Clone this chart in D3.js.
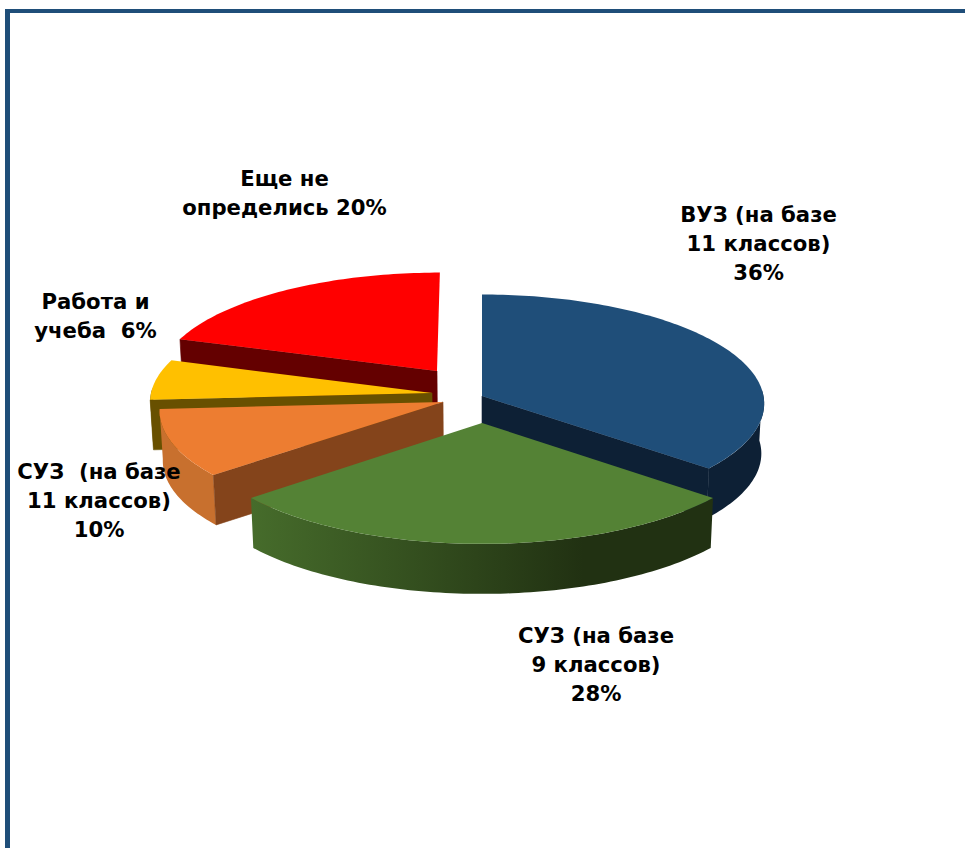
<!DOCTYPE html>
<html lang="ru">
<head>
    <meta charset="UTF-8">
    <title>3D pie</title>
    <script src="https://d3js.org/d3.v7.min.js"></script>
    <style>
        html, body { margin: 0; padding: 0; background: #fff; overflow: hidden; }
        text { font-family: "DejaVu Sans", sans-serif; font-weight: bold; font-size: 21.2px; fill: #000; white-space: pre; }
    </style>
</head>
<body>
    <div id="my_dataviz"></div>
    <script>
        // data
        var categories = ["ВУЗ (на базе 11 классов)", "СУЗ (на базе 9 классов)", "СУЗ (на базе 11 классов)", "Работа и учеба", "Еще не определись"];
        var values = [36, 28, 10, 6, 20];
        var labelLines = [
            ["ВУЗ (на базе", "11 классов)", "36%"],
            ["СУЗ (на базе", "9 классов)", "28%"],
            ["СУЗ  (на базе", "11 классов)", "10%"],
            ["Работа и", "учеба  6%"],
            ["Еще не", "определись 20%"]
        ];

        // colours per slice: top, radial wall, outer wall left and right
        var topColors = ["#1f4e79", "#548235", "#ed7d31", "#ffc000", "#ff0000"];
        var wallColors = ["#0d2035", "#22330f", "#84441b", "#685000", "#640000"];
        var outerLeft = ["#0d2035", "#466c2b", "#c8702e", "#685000", "#640000"];
        var outerRight = ["#0d2035", "#213112", "#c8702e", "#685000", "#640000"];

        // explode offset of each slice on the ground plane (pie radius = 1)
        var explodeU = [0, 0, -0.138, -0.178, -0.1625];
        var explodeV = [0.1278, -0.1167, 0.0728, 0.1555, 0.362];

        // label anchors (center x, first baseline y)
        var labelX = [758.5, 596, 99, 95.5, 284.5];
        var labelY = [222, 643, 479, 309, 186];

        var width = 965, height = 848;
        var cx = 482, cy = 410, rx = 284, ry = 110.5, persp = 0.07, depth = 50, lean = 0.99;

        var svg = d3.select("#my_dataviz").append("svg")
            .attr("width", width)
            .attr("height", height);

        // page frame
        svg.append("rect").attr("x", 5).attr("y", 9).attr("width", width - 5).attr("height", 4).attr("fill", "#1f4e79");
        svg.append("rect").attr("x", 5).attr("y", 9).attr("width", 5).attr("height", height - 9).attr("fill", "#1f4e79");

        var defs = svg.append("defs");

        // ground plane -> screen, with a bit of perspective
        function project(u, v, low) {
            var s = 1 / (1 + persp * v);
            var x = cx + rx * u * s;
            var y = cy - ry * v * s;
            if (low) {
                x = cx + (x - cx) * lean;
                y = y + depth;
            }
            return [x, y];
        }

        var pie = d3.pie().sort(null).value(function(d) { return d; });
        var arcs = pie(values);
        var line = d3.line();

        function rimPoints(i, a0, a1, low) {
            var n = Math.max(2, Math.ceil((a1 - a0) / 0.02));
            return d3.range(n + 1).map(function(k) {
                var t = a0 + (a1 - a0) * k / n;
                return project(Math.sin(t) + explodeU[i], Math.cos(t) + explodeV[i], low);
            });
        }

        function drawSlice(i) {
            var a0 = arcs[i].startAngle, a1 = arcs[i].endAngle;
            var g = svg.append("g").attr("class", "slice");
            var apexTop = project(explodeU[i], explodeV[i], false);
            var apexLow = project(explodeU[i], explodeV[i], true);

            // outer wall, front part of the rim only
            var b0 = Math.max(a0, Math.PI / 2 - 0.05), b1 = Math.min(a1, 3 * Math.PI / 2 + 0.05);
            if (b1 > b0) {
                var grad = defs.append("linearGradient")
                    .attr("id", "outer" + i)
                    .attr("gradientUnits", "userSpaceOnUse");
                var upper = rimPoints(i, b0, b1, false);
                var lower = rimPoints(i, b0, b1, true).reverse();
                var xs = d3.extent(upper, function(p) { return p[0]; });
                grad.attr("x1", xs[0]).attr("x2", xs[1]).attr("y1", 0).attr("y2", 0);
                grad.append("stop").attr("offset", 0).attr("stop-color", outerLeft[i]);
                grad.append("stop").attr("offset", 0.72).attr("stop-color", outerRight[i]);
                g.append("path")
                    .attr("d", line(upper.concat(lower)) + "Z")
                    .attr("fill", "url(#outer" + i + ")");
            }

            // radial walls, only those that look to the viewer
            [[a0, Math.sin(a0)], [a1, -Math.sin(a1)]].forEach(function(e) {
                if (e[1] < 0) {
                    var rim = rimPoints(i, e[0], e[0], false)[0];
                    var rimLow = rimPoints(i, e[0], e[0], true)[0];
                    g.append("path")
                        .attr("d", line([apexTop, rim, rimLow, apexLow]) + "Z")
                        .attr("fill", wallColors[i])
                        .attr("stroke", wallColors[i])
                        .attr("stroke-width", 0.6);
                }
            });

            // top face
            g.append("path")
                .attr("d", line([apexTop].concat(rimPoints(i, a0, a1, false))) + "Z")
                .attr("fill", topColors[i]);
        }

        // back to front
        [0, 4, 3, 2, 1].forEach(drawSlice);

        // labels
        labelLines.forEach(function(lines, i) {
            svg.append("text")
                .attr("text-anchor", "middle")
                .attr("y", labelY[i])
                .selectAll("tspan")
                .data(lines)
                .enter()
                .append("tspan")
                    .attr("x", labelX[i])
                    .attr("dy", function(d, k) { return k ? 29 : 0; })
                    .text(function(d) { return d; });
        });
    </script>
</body>
</html>
